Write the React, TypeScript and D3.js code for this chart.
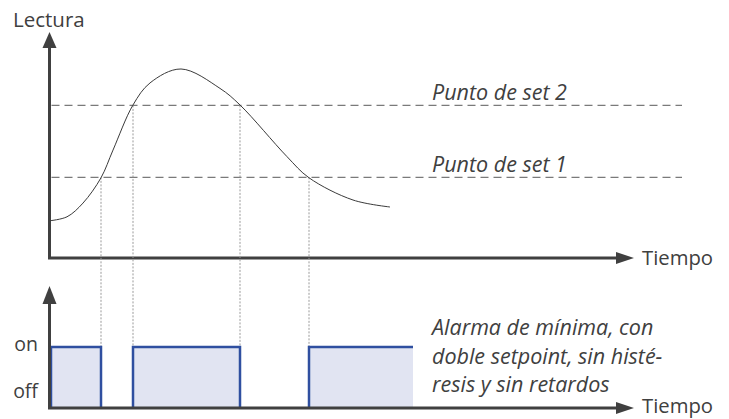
import React from 'react';
import * as d3 from 'd3';

// reading curve (time, value)
const readingTime = [0, 17, 33, 51, 63, 83, 100, 131, 170, 190, 237, 259, 303, 340];
const readingValue = [17.1, 18.9, 25.2, 36.8, 49.5, 70.2, 80.3, 86.7, 77.8, 70.2, 46.5, 36.8, 26.6, 23.4];

const setpointLabels = ['Punto de set 1', 'Punto de set 2'];
const setpointValues = [37, 70];

// where the curve crosses a setpoint
const crossTimes = [51, 83, 190, 259];
const crossLevels = [37, 70, 70, 37];

// alarm "on" intervals (last one stays on)
const alarmStart = [0, 83, 259];
const alarmEnd = [51, 190, 363];
const alarmOpen = [false, false, true];

const stateLabels = ['off', 'on'];
const noteLines = ['Alarma de mínima, con', 'doble setpoint, sin histé-', 'resis y sin retardos'];

const W = 729;
const H = 419;
const AXIS = '#404040';
const TEXT = '#404040';
const FONT = "'Open Sans', sans-serif";

const App = () => {
  const x = d3.scaleLinear().domain([0, 584]).range([50, 634]);
  const y = d3.scaleLinear().domain([0, 100]).range([258, 40]);
  const y2 = d3.scaleLinear().domain([0, 1]).range([408, 347]);

  const line = d3
    .line<number>()
    .x((d, i) => x(readingTime[i]))
    .y((d) => y(d))
    .curve(d3.curveCatmullRom.alpha(0.5));

  const axisX0 = x(0) - 0.5;

  return (
    <svg
      width={W}
      height={H}
      style={{ position: 'absolute', left: 0, top: 0, background: '#fff' }}
      fontFamily={FONT}
    >
      {/* top chart axes */}
      <text x={13} y={27} fontSize={20.5} fill={TEXT}>Lectura</text>
      <line x1={axisX0} y1={y(0)} x2={axisX0} y2={46} stroke={AXIS} strokeWidth={3} />
      <path d={`M${axisX0},32 L${axisX0 - 7},48 L${axisX0 + 7},48 Z`} fill={AXIS} />
      <line x1={axisX0 - 1.5} y1={y(0)} x2={620} y2={y(0)} stroke={AXIS} strokeWidth={3} />
      <path d={`M634,${y(0)} L616,${y(0) - 6} L616,${y(0) + 6} Z`} fill={AXIS} />
      <text x={642} y={y(0) + 7} fontSize={20.3} fill={TEXT}>Tiempo</text>

      {/* setpoint lines */}
      {setpointValues.map((v, i) => (
        <g key={i}>
          <line
            x1={axisX0 + 2}
            x2={682}
            y1={y(v)}
            y2={y(v)}
            stroke="#7a7a7a"
            strokeWidth={1.2}
            strokeDasharray="8,5"
          />
          <text x={432} y={y(v) - 5} fontSize={21.5} fontStyle="italic" fill={TEXT}>
            {setpointLabels[i]}
          </text>
        </g>
      ))}

      {/* crossing drop lines */}
      {crossTimes.map((t, i) => (
        <line
          key={i}
          x1={x(t)}
          x2={x(t)}
          y1={y(crossLevels[i])}
          y2={y2(1)}
          stroke="#9a9a9a"
          strokeWidth={1}
          strokeDasharray="2,1.5"
        />
      ))}

      {/* reading curve */}
      <path d={line(readingValue) || ''} fill="none" stroke="#3a3a3a" strokeWidth={1} />

      {/* alarm pulses */}
      {alarmStart.map((s, i) => {
        const x0 = x(s) + (s === 0 ? 1 : 0);
        const x1 = x(alarmEnd[i]);
        const top = y2(1);
        const bot = y2(0);
        const edge = alarmOpen[i]
          ? `M${x0},${bot} L${x0},${top} L${x1},${top}`
          : `M${x0},${bot} L${x0},${top} L${x1},${top} L${x1},${bot}`;
        return (
          <g key={i}>
            <rect x={x0} y={top} width={x1 - x0} height={bot - top} fill="#e1e4f2" />
            <path d={edge} fill="none" stroke="#2f4fa0" strokeWidth={2.5} />
          </g>
        );
      })}

      {/* bottom chart axes */}
      <line x1={axisX0} y1={y2(0)} x2={axisX0} y2={302} stroke={AXIS} strokeWidth={3} />
      <path d={`M${axisX0},286 L${axisX0 - 7},304 L${axisX0 + 7},304 Z`} fill={AXIS} />
      <line x1={axisX0 - 1.5} y1={y2(0)} x2={620} y2={y2(0)} stroke={AXIS} strokeWidth={3} />
      <path d={`M634,${y2(0)} L616,${y2(0) - 6} L616,${y2(0) + 6} Z`} fill={AXIS} />
      <text x={642} y={y2(0) + 5} fontSize={20.3} fill={TEXT}>Tiempo</text>

      <text x={38} y={351} fontSize={19.5} fill={TEXT} textAnchor="end">{stateLabels[1]}</text>
      <text x={38} y={398} fontSize={19.5} fill={TEXT} textAnchor="end">{stateLabels[0]}</text>

      {noteLines.map((t, i) => (
        <text key={i} x={432} y={335 + i * 28.5} fontSize={21.5} fontStyle="italic" fill={TEXT}>
          {t}
        </text>
      ))}
    </svg>
  );
};

export default App;
